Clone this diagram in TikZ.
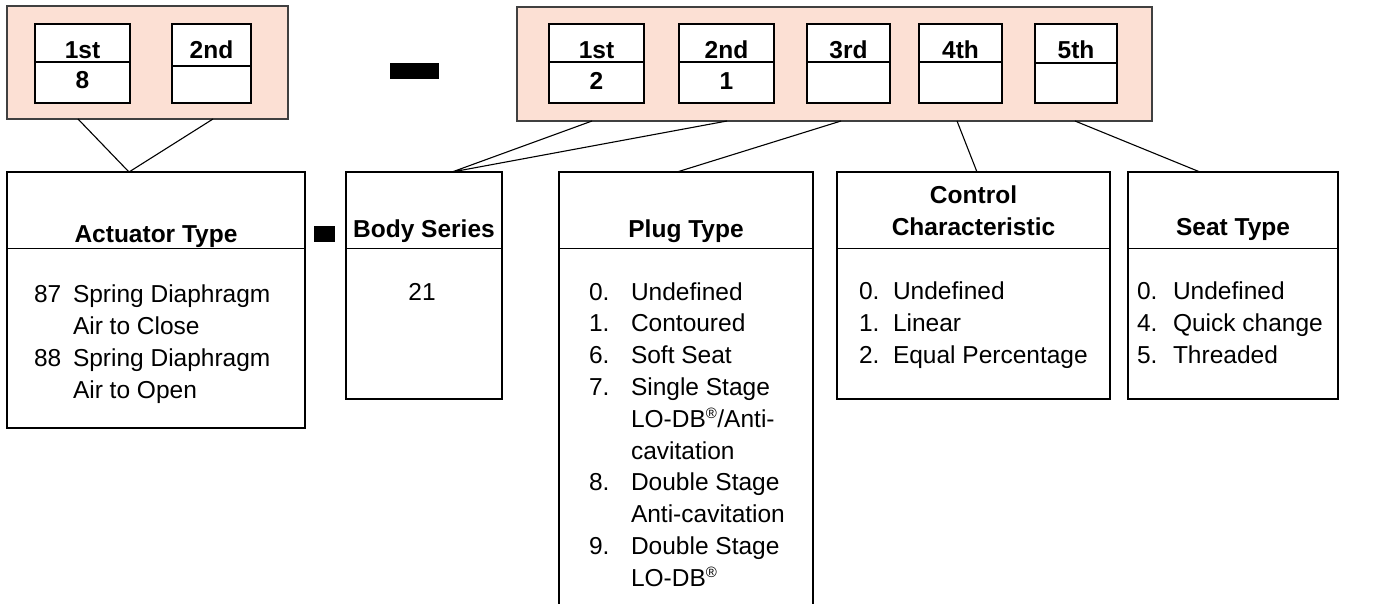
\documentclass[tikz,border=0pt]{standalone}
\usepackage{fontspec}
\setmainfont{Liberation Sans}
\definecolor{salmon}{RGB}{252,224,212}
\definecolor{rim}{RGB}{64,64,64}
\newcommand{\regmark}{\textsuperscript{\fontsize{15}{15}\selectfont ®}}
\begin{document}
\begin{tikzpicture}[x=1pt,y=-1pt,
  every node/.style={inner sep=0pt, outer sep=0pt, font=\fontsize{24.5}{29}\selectfont},
  group/.style={draw=rim, fill=salmon, line width=1.3pt, anchor=north west},
  cell/.style={draw=black, fill=white, line width=1.2pt, anchor=north west, minimum height=79},
  infobox/.style={draw=black, line width=1.2pt, anchor=north west},
  hdr/.style={font=\bfseries\fontsize{24.5}{29}\selectfont, anchor=base},
  itm/.style={anchor=base west},
  link/.style={draw=black, line width=1.1pt}]
\useasboundingbox (0,0) rectangle (1380,603);
\clip (0,0) rectangle (1380,603);
\fill[white] (0,0) rectangle (1380,603);

% ---- code groups ----
\node[group, minimum width=281, minimum height=113] (ga) at (7,6) {};
\node[group, minimum width=635, minimum height=114] (gb) at (517,7) {};

% cells of the first group
\node[cell, minimum width=95] (a1) at (35,24) {};
\node[cell, minimum width=79] (a2) at (172,24) {};
\draw[line width=1.2pt] (35,62) -- (130,62);
\draw[line width=1.2pt] (172,66) -- (251,66);
\node[hdr] (a1t) at (82.5,58) {1st};
\node[hdr] (a1v) at (82.5,88) {8};
\node[hdr] (a2t) at (211.5,58) {2nd};

% cells of the second group
\node[cell, minimum width=95] (b1) at (549,24) {};
\node[cell, minimum width=95] (b2) at (679,24) {};
\node[cell, minimum width=83] (b3) at (807,24) {};
\node[cell, minimum width=83] (b4) at (919,24) {};
\node[cell, minimum width=82] (b5) at (1035,24) {};
\draw[line width=1.2pt] (549,62) -- (644,62);
\draw[line width=1.2pt] (679,62) -- (774,62);
\draw[line width=1.2pt] (807,62) -- (890,62);
\draw[line width=1.2pt] (919,62) -- (1002,62);
\draw[line width=1.2pt] (1035,63) -- (1117,63);
\node[hdr] (b1t) at (596.5,58) {1st};
\node[hdr] (b1v) at (596.5,89) {2};
\node[hdr] (b2t) at (726.5,58) {2nd};
\node[hdr] (b2v) at (726.5,89) {1};
\node[hdr] (b3t) at (848.5,58) {3rd};
\node[hdr] (b4t) at (960.5,58) {4th};
\node[hdr] (b5t) at (1076,58) {5th};

% separating dashes
\node[fill=black, minimum width=49, minimum height=16, anchor=north west] (dashA) at (390,63) {};
\node[fill=black, minimum width=21, minimum height=16, anchor=north west] (dashB) at (314,226) {};

% ---- description boxes ----
\node[infobox, minimum width=298, minimum height=256] (act) at (7,172) {};
\node[infobox, minimum width=156, minimum height=227] (body) at (346,172) {};
\node[infobox, minimum width=254, minimum height=450] (plug) at (559,172) {};
\node[infobox, minimum width=273, minimum height=227] (ctrl) at (837,172) {};
\node[infobox, minimum width=210, minimum height=227] (seat) at (1128,172) {};
\foreach \b in {act,body,plug,ctrl,seat}
  \draw[line width=1.2pt] (\b.west |- 0,248.5) -- (\b.east |- 0,248.5);

% headings
\node[hdr] (actH) at (156,242) {Actuator Type};
\node[hdr] (bodyH) at (424,237) {Body Series};
\node[hdr] (plugH) at (686,237) {Plug Type};
\node[hdr] (ctrlH1) at (973.5,203) {Control};
\node[hdr] (ctrlH2) at (973.5,235) {Characteristic};
\node[hdr] (seatH) at (1233,235) {Seat Type};

% actuator entries
\node[itm] (an1) at (34,302) {87};
\node[itm] (at1) at (73,302) {Spring Diaphragm};
\node[itm] (at2) at (73,334) {Air to Close};
\node[itm] (an2) at (34,366) {88};
\node[itm] (at3) at (73,366) {Spring Diaphragm};
\node[itm] (at4) at (73,398) {Air to Open};

% body series entry
\node[anchor=base] (bv) at (422,300) {21};

% plug entries
\foreach \n/\t [count=\i from 0] in {0./Undefined, 1./Contoured, 6./Soft Seat,
    7./Single Stage, /{LO-DB\regmark/Anti-}, /cavitation,
    8./Double Stage, /Anti-cavitation, 9./Double Stage, /{LO-DB\regmark}} {
  \node[itm] (pn\i) at (589,300+31.8*\i) {\n};
  \node[itm] (pt\i) at (631,300+31.8*\i) {\t};
}

% control characteristic entries
\foreach \n/\t [count=\i from 0] in {0./Undefined, 1./Linear, 2./Equal Percentage} {
  \node[itm] (cn\i) at (859,299.5+32.2*\i) {\n};
  \node[itm] (ct\i) at (893,299.5+32.2*\i) {\t};
}

% seat type entries
\foreach \n/\t [count=\i from 0] in {0./Undefined, 4./Quick change, 5./Threaded} {
  \node[itm] (sn\i) at (1137,299.5+32.2*\i) {\n};
  \node[itm] (st\i) at (1173,299.5+32.2*\i) {\t};
}

% ---- connectors ----
\coordinate (gaL) at (78,119);
\coordinate (gaR) at (213,119);
\coordinate (actT) at (129,172);
\coordinate (gb1) at (592,121);
\coordinate (gb2) at (727,121);
\coordinate (gb3) at (841,121);
\coordinate (gb4) at (957,121);
\coordinate (gb5) at (1075,121);
\coordinate (bodyT) at (452,172);
\coordinate (plugT) at (677,172);
\coordinate (ctrlT) at (977,172);
\coordinate (seatT) at (1200,172);
\draw[link] (gaL) -- (actT) -- (gaR);
\draw[link] (gb1) -- (bodyT) -- (gb2);
\draw[link] (gb3) -- (plugT);
\draw[link] (gb4) -- (ctrlT);
\draw[link] (gb5) -- (seatT);
\end{tikzpicture}
\end{document}
